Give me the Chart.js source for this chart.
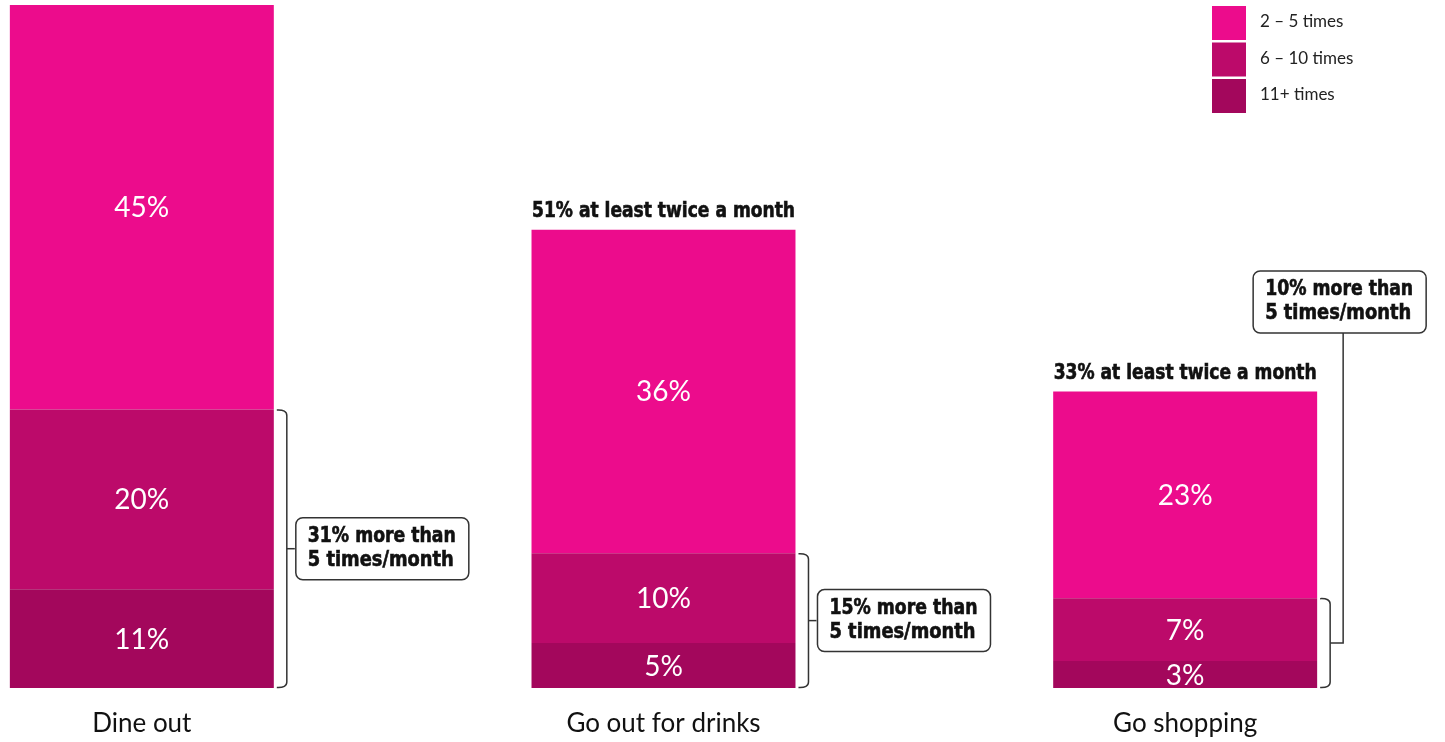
<!DOCTYPE html>
<html lang="en">
  <head>
    <meta charset="UTF-8" />
    <title>Going out frequency</title>
    <script src="https://cdn.jsdelivr.net/npm/chart.js"></script>
    <style>
      html, body { margin: 0; padding: 0; background: #fff; overflow: hidden; }
      body { width: 1445px; height: 742px; position: relative; }
      /* canvas is shifted left so the first bar sits near the page edge */
      #wrap { position: absolute; left: -119px; top: 0; width: 1565px; height: 742px; }
    </style>
  </head>
  <body>
    <div id="wrap"><canvas id="freqChart" width="1565" height="742"></canvas></div>

    <script>
      // data
      const categories = ["Dine out", "Go out for drinks", "Go shopping"];
      const seriesNames = ["11+ times", "6 – 10 times", "2 – 5 times"];
      const elevenPlus = [11, 5, 3];
      const sixToTen = [20, 10, 7];
      const twoToFive = [45, 36, 23];
      const topNotes = ["", "51% at least twice a month", "33% at least twice a month"];
      const bracketNotes = [
        ["31% more than", "5 times/month"],
        ["15% more than", "5 times/month"],
        ["10% more than", "5 times/month"],
      ];

      const colors = ["#a3075c", "#bc0a6a", "#ec0c8c"];
      const heavyFont = "'DejaVu Sans Condensed', 'DejaVu Sans', sans-serif";

      // white % labels inside each segment
      const segmentLabels = {
        id: "segmentLabels",
        afterDatasetsDraw(chart) {
          const ctx = chart.ctx;
          ctx.save();
          ctx.fillStyle = "#fff";
          ctx.font = "28px Lato, sans-serif";
          ctx.textAlign = "center";
          ctx.textBaseline = "middle";
          chart.data.datasets.forEach((ds, di) => {
            chart.getDatasetMeta(di).data.forEach((bar, i) => {
              ctx.fillText(ds.data[i] + "%", bar.x, (bar.y + bar.base) / 2 + 1);
            });
          });
          ctx.restore();
        },
      };

      function roundBox(ctx, x, y, w, h, r) {
        ctx.beginPath();
        ctx.moveTo(x + r, y);
        ctx.arcTo(x + w, y, x + w, y + h, r);
        ctx.arcTo(x + w, y + h, x, y + h, r);
        ctx.arcTo(x, y + h, x, y, r);
        ctx.arcTo(x, y, x + w, y, r);
        ctx.closePath();
        ctx.fill();
        ctx.stroke();
      }

      // heavy text: fill plus a thin stroke to thicken the strokes
      function heavyText(ctx, text, x, y, maxW) {
        ctx.fillStyle = "#111";
        ctx.strokeStyle = "#111";
        ctx.lineWidth = 0.6;
        ctx.font = "bold 21px " + heavyFont;
        ctx.fillText(text, x, y, maxW);
        ctx.strokeText(text, x, y, maxW);
      }

      function noteText(ctx, lines, x, y) {
        ctx.textAlign = "left";
        ctx.textBaseline = "middle";
        heavyText(ctx, lines[0], x, y - 12, 148);
        heavyText(ctx, lines[1], x, y + 12, 146);
      }

      // brackets, boxes and notes above bars
      const annotations = {
        id: "annotations",
        afterDraw(chart) {
          const ctx = chart.ctx;
          const top = chart.getDatasetMeta(1).data;
          const bottom = chart.getDatasetMeta(0).data;
          const upper = chart.getDatasetMeta(2).data;
          ctx.save();
          top.forEach((bar, i) => {
            const right = bar.x + bar.width / 2;
            const y0 = bar.y;
            const y1 = bottom[i].base;
            const mid = (y0 + y1) / 2;
            const bx = right + 13;

            ctx.strokeStyle = "#333";
            ctx.lineWidth = 1.5;
            ctx.beginPath();
            ctx.moveTo(right + 3, y0 + 0.5);
            ctx.quadraticCurveTo(bx, y0, bx, y0 + 6);
            ctx.lineTo(bx, y1 - 6);
            ctx.quadraticCurveTo(bx, y1, right + 3, y1 - 0.5);
            ctx.stroke();

            ctx.fillStyle = "#fff";
            if (i < 2) {
              ctx.beginPath();
              ctx.moveTo(bx, mid);
              ctx.lineTo(bx + 8, mid);
              ctx.stroke();
              roundBox(ctx, bx + 9, mid - 31, 173, 62, 7);
              noteText(ctx, bracketNotes[i], bx + 21, mid);
            } else {
              const lx = bx + 13;
              const boxBottom = 333;
              ctx.beginPath();
              ctx.moveTo(bx, mid);
              ctx.lineTo(lx, mid);
              ctx.lineTo(lx, boxBottom);
              ctx.stroke();
              roundBox(ctx, lx - 90, boxBottom - 62, 173, 62, 7);
              noteText(ctx, bracketNotes[i], lx - 78, boxBottom - 31);
            }

            if (topNotes[i]) {
              ctx.textAlign = "center";
              ctx.textBaseline = "middle";
              heavyText(ctx, topNotes[i], bar.x, upper[i].y - 18, 263);
            }
          });

          // legend, top right
          const lx = 1212 + 119;
          const rows = [2, 1, 0];
          rows.forEach((di, r) => {
            const ds = chart.data.datasets[di];
            const y = 6 + r * 36.5;
            ctx.fillStyle = ds.backgroundColor;
            ctx.fillRect(lx, y, 34, 34);
            ctx.fillStyle = "#222";
            ctx.font = "17px Lato, sans-serif";
            ctx.textAlign = "left";
            ctx.textBaseline = "middle";
            ctx.fillText(ds.label, lx + 48, y + 16);
          });
          ctx.restore();
        },
      };

      const ctx = document.getElementById("freqChart").getContext("2d");
      new Chart(ctx, {
        type: "bar",
        data: {
          labels: categories,
          datasets: [
            { label: seriesNames[0], data: elevenPlus, backgroundColor: colors[0], borderWidth: 0 },
            { label: seriesNames[1], data: sixToTen, backgroundColor: colors[1], borderWidth: 0 },
            { label: seriesNames[2], data: twoToFive, backgroundColor: colors[2], borderWidth: 0 },
          ],
        },
        options: {
          responsive: false,
          animation: false,
          layout: { padding: 0 },
          datasets: { bar: { categoryPercentage: 1, barPercentage: 0.506 } },
          plugins: { legend: { display: false }, tooltip: { enabled: false } },
          scales: {
            x: {
              stacked: true,
              grid: { display: false, drawTicks: false },
              border: { display: false },
              ticks: { color: "#111", font: { family: "Lato", size: 26 }, padding: 20 },
              afterFit: (scale) => { scale.height = 54; },
            },
            y: { stacked: true, display: false, min: 0, max: 76.56 },
          },
        },
        plugins: [segmentLabels, annotations],
      });
    </script>
  </body>
</html>
